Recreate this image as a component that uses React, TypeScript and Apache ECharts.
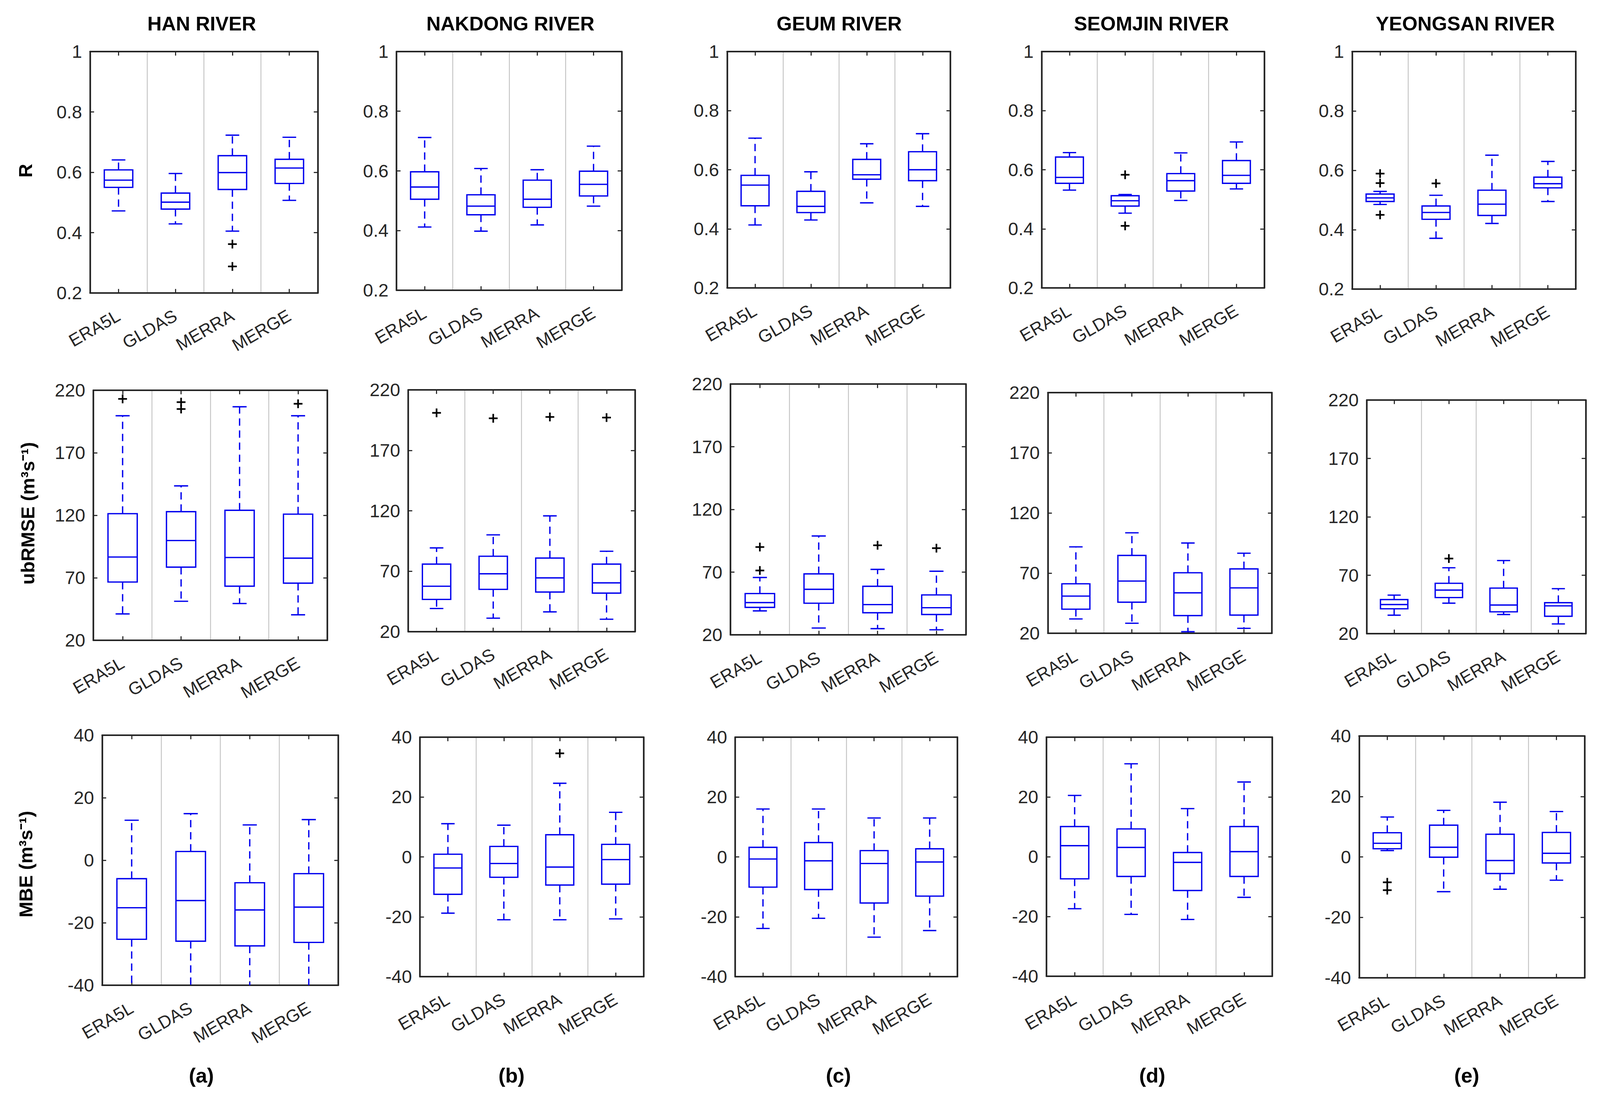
import React, { useEffect, useRef } from "react";
import * as echarts from "echarts";

// ---------------- data ----------------
const CATEGORIES = ["ERA5L", "GLDAS", "MERRA", "MERGE"];
const RIVERS = ["HAN RIVER", "NAKDONG RIVER", "GEUM RIVER", "SEOMJIN RIVER", "YEONGSAN RIVER"];
const PANEL_TAGS = ["(a)", "(b)", "(c)", "(d)", "(e)"];
const METRIC_NAMES = ["R", "ubRMSE (m³s⁻¹)", "MBE (m³s⁻¹)"];

const R_TICKS = [0.2, 0.4, 0.6, 0.8, 1];
const UBRMSE_TICKS = [20, 70, 120, 170, 220];
const MBE_TICKS = [-40, -20, 0, 20, 40];

// each box: [lower whisker, Q1, median, Q3, upper whisker]
const R_HAN = [[0.472, 0.55, 0.574, 0.608, 0.641], [0.429, 0.478, 0.501, 0.531, 0.596], [0.405, 0.543, 0.599, 0.655, 0.723], [0.507, 0.563, 0.614, 0.643, 0.716]];
const R_NAKDONG = [[0.412, 0.505, 0.546, 0.597, 0.712], [0.398, 0.453, 0.482, 0.52, 0.608], [0.419, 0.478, 0.505, 0.569, 0.604], [0.482, 0.516, 0.555, 0.599, 0.683]];
const R_GEUM = [[0.413, 0.478, 0.548, 0.581, 0.707], [0.43, 0.455, 0.476, 0.527, 0.593], [0.488, 0.568, 0.583, 0.635, 0.688], [0.476, 0.563, 0.6, 0.661, 0.722]];
const R_SEOMJIN = [[0.531, 0.554, 0.574, 0.643, 0.658], [0.453, 0.477, 0.495, 0.512, 0.516], [0.496, 0.528, 0.563, 0.587, 0.657], [0.535, 0.554, 0.581, 0.631, 0.694]];
const R_YEONGSAN = [[0.485, 0.495, 0.507, 0.52, 0.529], [0.371, 0.435, 0.458, 0.48, 0.516], [0.421, 0.448, 0.486, 0.533, 0.651], [0.495, 0.541, 0.555, 0.577, 0.63]];

const UB_HAN = [[41.1, 66.6, 86.6, 121.3, 199.6], [51.2, 78.5, 99.8, 122.9, 143.5], [49.4, 63.3, 86.2, 124.0, 206.8], [40.4, 65.7, 85.7, 120.9, 199.6]];
const UB_NAKDONG = [[39.2, 46.7, 57.6, 75.9, 89.3], [31.2, 55.0, 67.9, 82.4, 100.1], [36.4, 52.8, 64.5, 80.9, 115.8], [30.3, 51.9, 60.4, 75.9, 86.5]];
const UB_GEUM = [[39.1, 41.9, 45.7, 52.9, 65.7], [25.4, 45.2, 56.3, 68.6, 98.8], [24.9, 37.6, 44.1, 58.7, 72.2], [24.0, 36.2, 41.6, 51.8, 70.7]];
const UB_SEOMJIN = [[31.9, 40.0, 50.9, 61.1, 91.8], [28.3, 45.8, 63.4, 84.7, 103.5], [21.3, 34.7, 53.6, 70.3, 95.0], [24.1, 35.1, 57.7, 73.5, 86.5]];
const UB_YEONGSAN = [[35.8, 41.3, 44.9, 49.2, 53.0], [46.1, 50.9, 57.3, 63.1, 76.4], [36.4, 38.7, 44.5, 59.0, 82.6], [28.3, 34.9, 43.8, 46.5, 58.5]];

const MBE_HAN = [[-45, -25.3, -15.2, -5.9, 12.8], [-45, -25.9, -12.9, 2.8, 14.9], [-45, -27.4, -15.9, -7.2, 11.3], [-45, -26.3, -15.0, -4.3, 13.0]];
const MBE_NAKDONG = [[-18.8, -12.5, -3.7, 0.9, 11.1], [-21.0, -6.8, -2.2, 3.5, 10.6], [-21.0, -9.4, -3.4, 7.4, 24.6], [-20.7, -9.1, -0.9, 4.2, 14.9]];
const MBE_GEUM = [[-23.9, -10.1, -0.7, 3.2, 16.0], [-20.5, -10.9, -1.3, 4.8, 16.0], [-26.8, -15.4, -2.2, 2.1, 13.0], [-24.6, -13.1, -1.7, 2.7, 13.0]];
const MBE_SEOMJIN = [[-17.4, -7.4, 3.7, 10.1, 20.5], [-19.3, -6.6, 3.1, 9.3, 31.1], [-21.0, -11.3, -1.9, 1.4, 16.1], [-13.6, -6.6, 1.7, 10.1, 25.0]];
const MBE_YEONGSAN = [[2.1, 2.7, 4.5, 8.0, 13.2], [-11.5, -0.1, 3.2, 10.5, 15.4], [-10.7, -5.5, -1.2, 7.5, 18.1], [-7.7, -2.0, 1.2, 8.1, 15.0]];

// outliers: [category index, value]
const R_HAN_OUT = [[2, 0.362], [2, 0.288]];
const R_NAKDONG_OUT: number[][] = [];
const R_GEUM_OUT: number[][] = [];
const R_SEOMJIN_OUT = [[1, 0.583], [1, 0.41]];
const R_YEONGSAN_OUT = [[0, 0.589], [0, 0.557], [0, 0.45], [1, 0.556]];

const UB_HAN_OUT = [[0, 213.1], [1, 210.5], [1, 205.0], [3, 209.2]];
const UB_NAKDONG_OUT = [[0, 201.0], [1, 196.5], [2, 197.6], [3, 197.1]];
const UB_GEUM_OUT = [[0, 90.0], [0, 71.3], [2, 91.4], [3, 89.1]];
const UB_SEOMJIN_OUT: number[][] = [];
const UB_YEONGSAN_OUT = [[1, 84.3]];

const MBE_HAN_OUT: number[][] = [];
const MBE_NAKDONG_OUT = [[2, 34.6]];
const MBE_GEUM_OUT: number[][] = [];
const MBE_SEOMJIN_OUT: number[][] = [];
const MBE_YEONGSAN_OUT = [[0, -8.4], [0, -11.0]];

const BOXES = [
  [R_HAN, R_NAKDONG, R_GEUM, R_SEOMJIN, R_YEONGSAN],
  [UB_HAN, UB_NAKDONG, UB_GEUM, UB_SEOMJIN, UB_YEONGSAN],
  [MBE_HAN, MBE_NAKDONG, MBE_GEUM, MBE_SEOMJIN, MBE_YEONGSAN],
];
const OUTLIERS = [
  [R_HAN_OUT, R_NAKDONG_OUT, R_GEUM_OUT, R_SEOMJIN_OUT, R_YEONGSAN_OUT],
  [UB_HAN_OUT, UB_NAKDONG_OUT, UB_GEUM_OUT, UB_SEOMJIN_OUT, UB_YEONGSAN_OUT],
  [MBE_HAN_OUT, MBE_NAKDONG_OUT, MBE_GEUM_OUT, MBE_SEOMJIN_OUT, MBE_YEONGSAN_OUT],
];
const ROW_TICKS = [R_TICKS, UBRMSE_TICKS, MBE_TICKS];

// ---------------- layout (reference pixel space 4370 x 2826) ----------------
const REF_W = 4370;
const REF_H = 2826;
const GRIDS = [
  [
    [246, 132, 622, 618],
    [1083, 132, 615, 611],
    [1986, 132, 610, 605],
    [2845, 132, 608, 605],
    [3693, 132, 611, 608],
  ],
  [
    [255, 999, 639, 640],
    [1115, 998, 619, 619],
    [1995, 983, 643, 642],
    [2862, 1005, 612, 616],
    [3733, 1024, 598, 598],
  ],
  [
    [279, 1882, 645, 640],
    [1147, 1887, 611, 613],
    [2008, 1887, 607, 613],
    [2858, 1887, 617, 612],
    [3712, 1884, 616, 619],
  ],
];
const TITLE_X = [551, 1394, 2292, 3145, 4002];
const TITLE_Y = 60;
const TAG_X = [550, 1397, 2290, 3147, 4006];
const TAG_Y = 2752;
const NAME_POS = [[69, 437], [76, 1314], [70, 2212]];

const FONT = '"Liberation Sans", Arial, Helvetica, sans-serif';
const BLUE = "#0000ee";
const FRAME = "#262626";
const SEP = "#c4c4c4";

function makeRenderBox(k: number) {
  return function renderBox(params: any, api: any) {
    const c = api.value(0);
    const v = [api.value(1), api.value(2), api.value(3), api.value(4), api.value(5)];
    const x = api.coord([c, v[2]])[0];
    const bw = api.size([1, 0])[0];
    const half = bw * 0.25;
    const cap = bw * 0.12;
    const y = v.map((val: number) => api.coord([c, val])[1]);
    const lw = 3.6 * k;
    const dash = { stroke: BLUE, lineWidth: lw, lineDash: [20 * k, 13 * k], fill: "none" };
    const solid = { stroke: BLUE, lineWidth: lw, fill: "none" };
    return {
      type: "group",
      children: [
        { type: "line", shape: { x1: x, y1: y[3], x2: x, y2: y[4] }, style: dash },
        { type: "line", shape: { x1: x, y1: y[1], x2: x, y2: y[0] }, style: dash },
        { type: "line", shape: { x1: x - cap, y1: y[4], x2: x + cap, y2: y[4] }, style: solid },
        { type: "line", shape: { x1: x - cap, y1: y[0], x2: x + cap, y2: y[0] }, style: solid },
        { type: "rect", shape: { x: x - half, y: y[3], width: half * 2, height: y[1] - y[3] }, style: solid },
        { type: "line", shape: { x1: x - half, y1: y[2], x2: x + half, y2: y[2] }, style: solid },
      ],
    };
  };
}

function makeRenderPlus(k: number) {
  return function renderPlus(params: any, api: any) {
    const p = api.coord([api.value(0), api.value(1)]);
    const s = 12 * k;
    const st = { stroke: "#000", lineWidth: 4.5 * k, fill: "none" };
    return {
      type: "group",
      children: [
        { type: "line", shape: { x1: p[0] - s, y1: p[1], x2: p[0] + s, y2: p[1] }, style: st },
        { type: "line", shape: { x1: p[0], y1: p[1] - s, x2: p[0], y2: p[1] + s }, style: st },
      ],
    };
  };
}

function buildOption(vw: number, vh: number) {
  const sx = vw / REF_W;
  const sy = vh / REF_H;
  const k = Math.min(sx, sy);
  const grid: any[] = [];
  const xAxis: any[] = [];
  const yAxis: any[] = [];
  const series: any[] = [];
  const graphic: any[] = [];
  const renderBox = makeRenderBox(k);
  const renderPlus = makeRenderPlus(k);
  let gi = 0;
  for (let r = 0; r < 3; r++) {
    const ticks = ROW_TICKS[r];
    for (let c = 0; c < 5; c++) {
      const [left, top, width, height] = GRIDS[r][c];
      grid.push({ left: left * sx, top: top * sy, width: width * sx, height: height * sy, containLabel: false });
      const axisLine = { show: true, onZero: false, lineStyle: { color: FRAME, width: 4.5 * k } };
      const tickStyle = { color: FRAME, width: 3 * k };
      xAxis.push({
        gridIndex: gi,
        type: "category",
        data: CATEGORIES,
        position: "bottom",
        z: 0,
        axisLine,
        axisTick: { show: true, inside: true, alignWithLabel: true, interval: 0, length: 11 * k, lineStyle: tickStyle },
        axisLabel: { interval: 0, rotate: 30, margin: 58 * k, fontSize: 48 * k, color: FRAME, fontFamily: FONT },
        splitLine: { show: true, interval: 0, lineStyle: { color: SEP, width: 2.5 * k } },
      });
      xAxis.push({
        gridIndex: gi,
        type: "category",
        data: CATEGORIES,
        position: "top",
        z: 1,
        axisLine,
        axisTick: { show: true, inside: true, alignWithLabel: true, interval: 0, length: 11 * k, lineStyle: tickStyle },
        axisLabel: { show: false },
        splitLine: { show: false },
      });
      const yBase = {
        gridIndex: gi,
        type: "value",
        min: ticks[0],
        max: ticks[ticks.length - 1],
        z: 1,
        axisLine,
        splitLine: { show: false },
      };
      yAxis.push({
        ...yBase,
        position: "left",
        axisTick: { show: true, inside: true, length: 11 * k, lineStyle: tickStyle, customValues: ticks },
        axisLabel: { show: true, margin: 22 * k, fontSize: 50 * k, color: FRAME, fontFamily: FONT, customValues: ticks },
      });
      yAxis.push({
        ...yBase,
        position: "right",
        axisTick: { show: true, inside: true, length: 11 * k, lineStyle: tickStyle, customValues: ticks },
        axisLabel: { show: false },
      });
      const boxData = BOXES[r][c].map((b, i) => [i, ...b]);
      series.push({
        type: "custom",
        xAxisIndex: gi * 2,
        yAxisIndex: gi * 2,
        clip: true,
        renderItem: renderBox,
        encode: { x: 0, y: [1, 2, 3, 4, 5] },
        data: boxData,
        z: 3,
      });
      series.push({
        type: "custom",
        xAxisIndex: gi * 2,
        yAxisIndex: gi * 2,
        clip: true,
        renderItem: renderPlus,
        encode: { x: 0, y: 1 },
        data: OUTLIERS[r][c],
        z: 4,
      });
      gi++;
    }
  }
  const textStyle = (text: string, size: number) => ({
    text,
    font: `bold ${size * k}px ${FONT}`,
    fill: "#000",
    textAlign: "center",
    textVerticalAlign: "middle",
    align: "center",
    verticalAlign: "middle",
  });
  RIVERS.forEach((name, c) => {
    graphic.push({ type: "text", x: TITLE_X[c] * sx, y: TITLE_Y * sy, style: textStyle(name, 54) });
  });
  PANEL_TAGS.forEach((tag, c) => {
    graphic.push({ type: "text", x: TAG_X[c] * sx, y: TAG_Y * sy, style: textStyle(tag, 56) });
  });
  METRIC_NAMES.forEach((name, r) => {
    graphic.push({
      type: "text",
      x: NAME_POS[r][0] * sx,
      y: NAME_POS[r][1] * sy,
      rotation: Math.PI / 2,
      style: textStyle(name, 52),
    });
  });
  return {
    animation: false,
    backgroundColor: "#ffffff",
    grid,
    xAxis,
    yAxis,
    series,
    graphic: { elements: graphic },
  };
}

export default function App() {
  const ref = useRef<HTMLDivElement>(null);
  const vw = typeof window !== "undefined" ? window.innerWidth || REF_W : REF_W;
  const vh = typeof window !== "undefined" ? window.innerHeight || REF_H : REF_H;
  useEffect(() => {
    if (!ref.current) return;
    const chart = echarts.init(ref.current, undefined, { renderer: "svg", width: vw, height: vh });
    chart.setOption(buildOption(vw, vh) as any);
    return () => chart.dispose();
  }, []);
  return (
    <div
      ref={ref}
      style={{ position: "fixed", left: 0, top: 0, width: vw, height: vh, background: "#fff" }}
    />
  );
}
